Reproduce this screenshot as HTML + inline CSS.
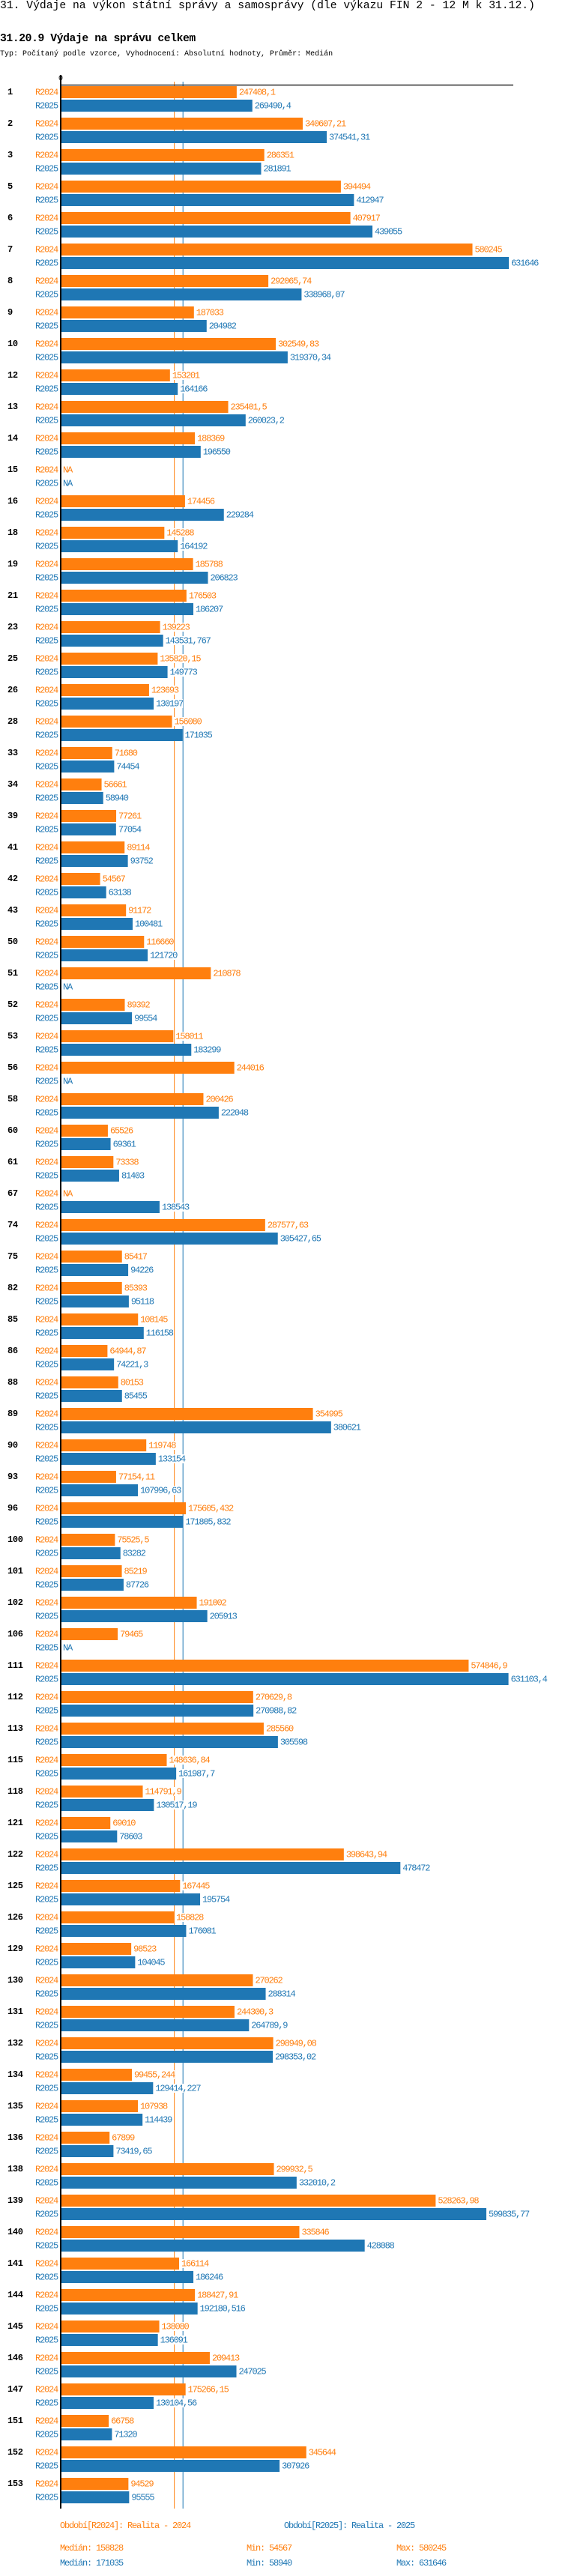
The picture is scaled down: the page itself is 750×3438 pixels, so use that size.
<!DOCTYPE html>
<html><head><meta charset="utf-8">
<style>
html,body{margin:0;padding:0;background:#fff;}
body{width:750px;height:3438px;position:relative;overflow:hidden;font-family:"Liberation Mono",monospace;}
.t{position:absolute;white-space:nowrap;}
svg text{font-family:"Liberation Mono",monospace;}
</style></head>
<body>
<div class="t" style="left:0;top:-1px;font-size:14.7px;line-height:18px;">31. Výdaje na výkon státní správy a samosprávy (dle výkazu FIN 2 - 12 M k 31.12.)</div>
<div class="t" style="left:0;top:43px;font-size:14.7px;line-height:18px;font-weight:bold;letter-spacing:-0.4px;">31.20.9 Výdaje na správu celkem</div>
<div class="t" style="left:0;top:66px;font-size:10px;line-height:14px;">Typ: Počítaný podle vzorce, Vyhodnocení: Absolutní hodnoty, Průměr: Medián</div>
<svg id="chart" width="750" height="3438" style="position:absolute;left:0;top:0;"></svg>
<script>
const categories=["1","2","3","5","6","7","8","9","10","12","13","14","15","16","18","19","21","23","25","26","28","33","34","39","41","42","43","50","51","52","53","56","58","60","61","67","74","75","82","85","86","88","89","90","93","96","100","101","102","106","111","112","113","115","118","121","122","125","126","129","130","131","132","134","135","136","138","139","140","141","144","145","146","147","151","152","153"];
const values2024=[247408.1,340607.21,286351,394494,407917,580245,292065.74,187033,302549.83,153201,235401.5,188369,null,174456,145288,185788,176503,139223,135820.15,123693,156080,71680,56661,77261,89114,54567,91172,116660,210878,89392,158011,244016,200426,65526,73338,null,287577.63,85417,85393,108145,64944.87,80153,354995,119748,77154.11,175605.432,75525.5,85219,191002,79465,574846.9,270629.8,285560,148636.84,114791.9,69010,398643.94,167445,158828,98523,270262,244300.3,298949.08,99455.244,107938,67899,299932.5,528263.98,335846,166114,188427.91,138080,209413,175266.15,66758,345644,94529];
const values2025=[269490.4,374541.31,281891,412947,439055,631646,338968.07,204982,319370.34,164166,260023.2,196550,null,229284,164192,206823,186207,143531.767,149773,130197,171035,74454,58940,77054,93752,63138,100481,121720,null,99554,183299,null,222048,69361,81403,138543,305427.65,94226,95118,116158,74221.3,85455,380621,133154,107996.63,171805.832,83282,87726,205913,null,631103.4,270988.82,305598,161987.7,130517.19,78603,478472,195754,176081,104045,288314,264789.9,298353.02,129414.227,114439,73419.65,332010.2,599835.77,428088,186246,192180.516,136091,247025,130104.56,71320,307926,95555];
const median2024=158828, median2025=171035;
const seriesNames=["R2024","R2025"];

const svg=document.getElementById('chart');
const NS='http://www.w3.org/2000/svg';
const X0=82, PXPERUNIT=605/640000, TOP=114, PITCH=42;
const ORANGE='#ff7f0e', BLUE='#1f77b4';
function xScale(v){return X0+v*PXPERUNIT;}
function yGroup(i){return TOP+i*PITCH;}
function mk(tag,attrs){const e=document.createElementNS(NS,tag);for(const k in attrs)e.setAttribute(k,attrs[k]);svg.appendChild(e);return e;}
function fmt(v){return String(v).replace('.',',');}
const bottom=yGroup(categories.length-1)+42;

// median lines
let m1=mk('line',{x1:xScale(median2024)+0.5,x2:xScale(median2024)+0.5,y1:109,y2:bottom,stroke:ORANGE,'stroke-width':1});


let m2=mk('line',{x1:xScale(median2025)+0.5,x2:xScale(median2025)+0.5,y1:109,y2:bottom,stroke:BLUE,'stroke-width':1});



categories.forEach((c,i)=>{
  const y=yGroup(i);
  const g=mk('text',{x:10,y:y+12,'font-size':12,'font-weight':'bold',fill:'#000','letter-spacing':'-0.3'});
  g.textContent=c;
  
  
  [values2024[i],values2025[i]].forEach((v,s)=>{
    const col=s===0?ORANGE:BLUE;
    const by=y+1+s*18;
    const lab=mk('text',{x:77,y:by+11.5,'font-size':12,'letter-spacing':'-1.2','text-anchor':'end',fill:col});
    lab.textContent=seriesNames[s];
    
    
    let tx=X0+2;
    if(v!==null){
      const r=mk('rect',{x:X0,y:by,width:xScale(v)-X0,height:16,fill:col});
      
      
      tx=xScale(v)+3;
    }
    const str=v===null?'NA':fmt(v);
    const bg=mk('rect',{x:tx-1,y:by+2,width:str.length*6+1,height:12,fill:'#fff'});
    
    
    const t=mk('text',{x:tx,y:by+11.5,'font-size':12,'letter-spacing':'-1.2',fill:col});
    t.textContent=str;
    
    
  });
});

// axes
let ax=mk('line',{x1:80,x2:685,y1:113.5,y2:113.5,stroke:'#000','stroke-width':1.2});


let ay=mk('line',{x1:81,x2:81,y1:100,y2:bottom,stroke:'#000','stroke-width':2});


let z=mk('text',{x:81,y:107,'font-size':10,'text-anchor':'middle',fill:'#000'});
z.textContent='0';



// legend
const legendItems=[
 ['Období[R2024]: Realita - 2024',80,3374,ORANGE,'legend-2024'],
 ['Období[R2025]: Realita - 2025',379,3374,BLUE,'legend-2025'],
 ['Medián: '+median2024,80,3404,ORANGE,'median-2024'],
 ['Min: 54567',329,3404,ORANGE,'min-2024'],
 ['Max: 580245',529,3404,ORANGE,'max-2024'],
 ['Medián: '+median2025,80,3424,BLUE,'median-2025'],
 ['Min: 58940',329,3424,BLUE,'min-2025'],
 ['Max: 631646',529,3424,BLUE,'max-2025']
];
legendItems.forEach(l=>{
  const t=mk('text',{x:l[1],y:l[2],'font-size':12,'letter-spacing':'-1.2',fill:l[3]});
  t.textContent=l[0];
  
  
});
</script>
</body></html>
